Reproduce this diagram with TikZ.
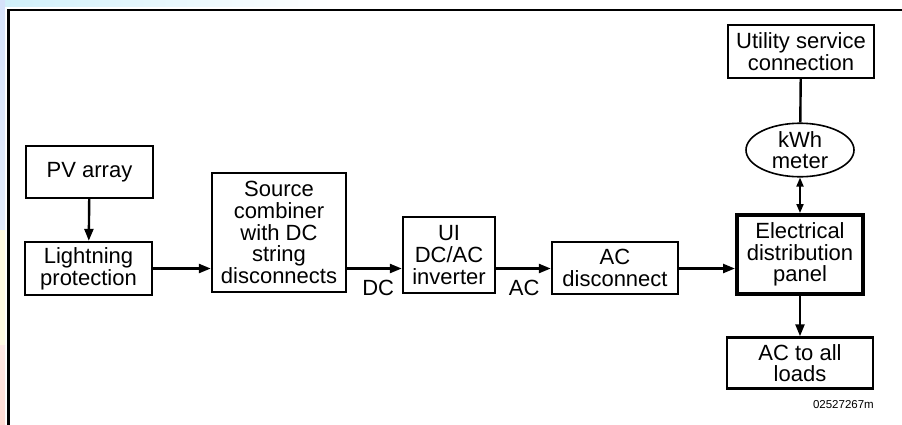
\documentclass[tikz,border=0pt]{standalone}
\usepackage{fontspec}
\setmainfont{Liberation Sans}
\usetikzlibrary{positioning,arrows.meta,shapes.geometric}
\definecolor{bgblue}{RGB}{214,226,250}
\definecolor{bgcyan}{RGB}{208,240,250}
\definecolor{bgyellow}{RGB}{255,250,226}
\definecolor{bgpink}{RGB}{255,218,210}
\tikzset{
  block/.style={draw, line width=2.4pt, align=center, inner sep=0pt,
                font=\fontsize{22}{21.7}\selectfont},
  mainblock/.style={block, line width=4pt},
  meter/.style={ellipse, draw, line width=1.6pt, align=center, inner sep=0pt,
                font=\fontsize{22}{21.7}\selectfont},
  flow/.style={-{Triangle[length=12pt,width=9pt]}, line width=2.4pt},
  bidir/.style={{Triangle[length=9pt,width=7pt]}-{Triangle[length=9pt,width=7pt]}, line width=1.8pt},
  wire/.style={line width=2.4pt},
  lbl/.style={font=\fontsize{22}{21.7}\selectfont, inner sep=0pt},
  tag/.style={font=\fontsize{11.5}{12}\selectfont, inner sep=0pt}
}
\begin{document}
\begin{tikzpicture}[x=1pt,y=-1pt]
        \useasboundingbox (0,0) rectangle (902,424);
        \clip (0,0) rectangle (902,424);
        % backdrop and frame
        \shade[left color=bgcyan, right color=white] (0,0) rectangle (330,6);
        \shade[top color=bgblue, bottom color=bgblue!70] (0,0) rectangle (5,230);
        \shade[top color=bgyellow, bottom color=bgyellow] (0,230) rectangle (5,345);
        \shade[top color=bgpink!60, bottom color=bgpink] (0,345) rectangle (5,424);
        \draw[line width=2.6pt] (8.5,430) -- (8.5,10) -- (910,10);
        % blocks
        \node[block, minimum width=127pt, minimum height=52pt] (pv) at (89.5,172) {PV array};
        \node[block, minimum width=127pt, minimum height=53pt] (lp) at (88.5,268.5) {Lightning\\protection};
        \node[block, minimum width=134pt, minimum height=119pt] (sc) at (279,232.5)
             {Source\\combiner\\with DC\\string\\disconnects};
        \node[block, minimum width=92pt, minimum height=76pt] (inv) at (449,255) {UI\\DC/AC\\inverter};
        \node[block, minimum width=126pt, minimum height=52pt] (acd) at (615,268) {AC\\disconnect};
        \node[block, minimum width=146pt, minimum height=53pt] (usc) at (801,51.5) {Utility service\\connection};
        \node[meter, minimum width=108pt, minimum height=52pt] (kwh) at (800,150) {kWh\\meter};
        \node[mainblock, minimum width=126pt, minimum height=79pt] (edp) at (800,254.5)
             {Electrical\\distribution\\panel};
        \node[block, minimum width=146pt, minimum height=51pt] (ld) at (800,363) {AC to all\\loads};
        % connectors
        \draw[flow] (pv) -- (lp);
        \draw[flow] (lp.east) -- (sc.west |- lp.east);
        \draw[flow] (sc.east |- lp.east) -- (inv.west |- lp.east);
        \draw[flow] (inv.east |- lp.east) -- (acd.west |- lp.east);
        \draw[flow] (acd.east |- lp.east) -- (edp.west |- lp.east);
        \draw[wire] (usc) -- (kwh);
        \draw[bidir] (kwh) -- (edp);
        \draw[flow] (edp) -- (ld);
        \node[lbl, below=11pt of sc.east |- lp.east, xshift=31pt] (dc) {DC};
        \node[lbl, below=11pt of inv.east |- lp.east, xshift=28pt] (ac) {AC};
        \node[tag, anchor=east] (code) at (874,405) {02527267m};
      \end{tikzpicture}
\end{document}
